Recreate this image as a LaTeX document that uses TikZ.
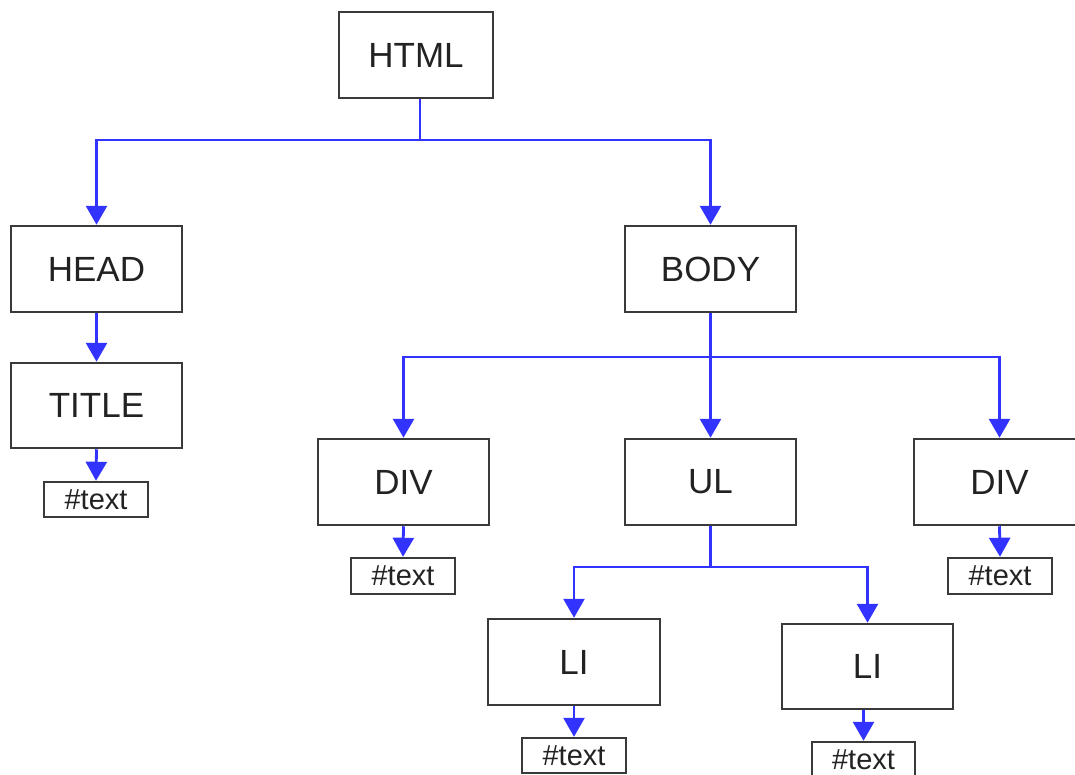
\documentclass[tikz,border=0pt]{standalone}
\usepackage{fontspec}
\setmainfont{Liberation Sans}
\usetikzlibrary{arrows.meta}
\definecolor{linkblue}{HTML}{3333FF}
\definecolor{boxgray}{HTML}{3A3A3A}
\definecolor{txt}{HTML}{222222}
\begin{document}
\begin{tikzpicture}[x=1pt,y=-1pt,
  bigbox/.style={draw=boxgray,line width=2.5pt,minimum width=171pt,minimum height=86pt,inner sep=0pt,text=txt,font=\fontsize{35}{40}\selectfont},
  smallbox/.style={draw=boxgray,line width=2.5pt,minimum width=104pt,minimum height=35pt,inner sep=0pt,text=txt,font=\fontsize{29}{32}\selectfont},
  conn/.style={draw=linkblue,line width=2.8pt,-{Triangle[length=19pt,width=21pt]}},
  plain/.style={draw=linkblue,line width=2.8pt}]
\useasboundingbox (0,0) rectangle (1075,774);
\clip (0,0) rectangle (1075,774);
\node[bigbox,minimum width=154pt] (html) at (416,55) {HTML};
\node[bigbox] (head) at (96.5,269) {HEAD};
\node[bigbox] (body) at (710.5,269) {BODY};
\node[bigbox,minimum height=85pt] (title) at (96.5,405.5) {TITLE};
\node[smallbox] (t1) at (96,499.5) {\#text};
\node[bigbox] (div1) at (403.5,482) {DIV};
\node[bigbox] (ul) at (710.5,482) {UL};
\node[bigbox] (div2) at (999.5,482) {DIV};
\node[smallbox,minimum height=36pt] (t2) at (403,576) {\#text};
\node[smallbox,minimum height=36pt] (t3) at (1000,576) {\#text};
\node[bigbox,minimum width=172pt] (li1) at (574,662) {LI};
\node[bigbox,minimum height=85pt] (li2) at (867.5,666.5) {LI};
\node[smallbox] (t4) at (574,755.5) {\#text};
\node[smallbox,minimum width=103pt,minimum height=36pt] (t5) at (863.5,760) {\#text};
\coordinate (bus1) at (420,140);
\coordinate (bus2) at (710.5,357);
\coordinate (bus3) at (710.5,567);
% HTML children
\draw[plain] (bus1 |- html.south) -- (bus1);
\draw[conn] (bus1) -| (head.north);
\draw[conn] (bus1) -| (body.north);
\draw[conn] (head.south) -- (title.north);
\draw[conn] (title.south) -- (t1.north);
% BODY children
\draw[conn] (body.south) -- (ul.north);
\draw[conn] (bus2) -| (div1.north);
\draw[conn] (bus2) -| (div2.north);
\draw[conn] (div1.south) -- (t2.north);
\draw[conn] (div2.south) -- (t3.north);
% UL children
\draw[plain] (ul.south) -- (bus3);
\draw[conn] (bus3) -| (li1.north);
\draw[conn] (bus3) -| (li2.north);
\draw[conn] (li1.south) -- (t4.north);
\draw[conn] (t5.north |- li2.south) -- (t5.north);
\end{tikzpicture}
\end{document}
